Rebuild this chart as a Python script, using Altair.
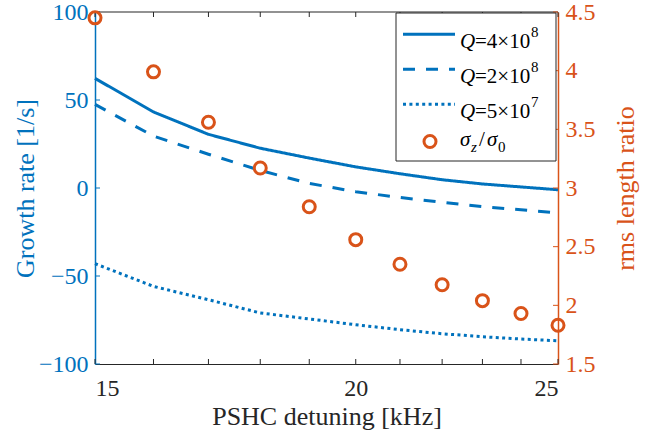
import altair as alt
import pandas as pd

# ---------------- data ----------------
detuning = [15, 16, 17, 18, 19, 20, 21, 22, 23, 24, 25]
growth_q4e8 = [62.3, 43.2, 30.5, 22.6, 17.0, 12.0, 8.1, 4.7, 2.3, 0.6, -1.0]
growth_q2e8 = [47.5, 29.5, 19.2, 10.0, 2.6, -2.1, -5.4, -8.1, -10.6, -12.4, -14.2]
growth_q5e7 = [-43.0, -55.9, -63.5, -71.0, -74.4, -77.7, -80.5, -82.8, -84.5, -85.8, -86.8]
sigma_ratio = [4.45, 3.99, 3.56, 3.17, 2.84, 2.56, 2.35, 2.175, 2.04, 1.93, 1.83]
series_names = ["Q=4e8", "Q=2e8", "Q=5e7"]
left_ticks = [-100, -50, 0, 50, 100]
right_ticks = [1.5, 2, 2.5, 3, 3.5, 4, 4.5]
legend_exponents = ["8", "8", "7"]
legend_mantissas = ["=4\u00d710", "=2\u00d710", "=5\u00d710"]

# ---------------- style ----------------
BLUE = "#0072BD"
ORANGE = "#D95319"
DARK = "#262626"
FONT = "Liberation Serif"
W, H = 463, 352
TICK = 5

lines_df = pd.DataFrame({
    "detuning": detuning * 3,
    "growth": growth_q4e8 + growth_q2e8 + growth_q5e7,
    "series": [series_names[0]] * 11 + [series_names[1]] * 11 + [series_names[2]] * 11,
})
ratio_df = pd.DataFrame({"detuning": detuning, "ratio": sigma_ratio})
xt_df = pd.DataFrame({"detuning": detuning})
lt_df = pd.DataFrame({"growth": left_ticks})
rt_df = pd.DataFrame({"ratio": right_ticks})
one = pd.DataFrame({"a": [0]})

xscale = alt.Scale(type="log", domain=[15, 25], nice=False)
lscale = alt.Scale(domain=[-100, 100], nice=False)
rscale = alt.Scale(domain=[1.5, 4.5], nice=False)

xaxis = alt.Axis(values=detuning, labelExpr="datum.value % 5 == 0 ? datum.label : ''",
                 ticks=False, grid=False, domainColor=DARK, domainWidth=1.2,
                 labelFont=FONT, labelFontSize=24, labelColor=DARK, labelPadding=12,
                 title="PSHC detuning [kHz]", titleFont=FONT, titleFontSize=26,
                 titleFontWeight="normal", titleColor=DARK, titlePadding=3)
laxis = alt.Axis(orient="left", values=left_ticks, format="d", ticks=False, grid=False,
                 domainColor=BLUE, domainWidth=1.5, labelFont=FONT, labelFontSize=24,
                 labelColor=BLUE, labelPadding=7, title="Growth rate [1/s]", titleFont=FONT,
                 titleFontSize=26, titleFontWeight="normal", titleColor=BLUE,
                 titleX=-70, titleY=H / 2, titleAngle=270, titleAlign="center",
                 titleBaseline="middle")
raxis = alt.Axis(orient="right", values=right_ticks, format="~g", ticks=False, grid=False,
                 domainColor=ORANGE, domainWidth=1.5, labelFont=FONT, labelFontSize=24,
                 labelColor=ORANGE, labelPadding=7, title="rms length ratio", titleFont=FONT,
                 titleFontSize=26, titleFontWeight="normal", titleColor=ORANGE,
                 titleX=67, titleY=H / 2, titleAngle=270, titleAlign="center",
                 titleBaseline="middle")

X = alt.X("detuning:Q", scale=xscale, axis=xaxis)

lines = alt.Chart(lines_df).mark_line(color=BLUE, strokeWidth=3, strokeCap="butt").encode(
    x=X,
    y=alt.Y("growth:Q", scale=lscale, axis=laxis),
    strokeDash=alt.StrokeDash("series:N", scale=alt.Scale(domain=series_names,
                              range=[[1, 0], [12, 11], [3, 3.4]]), legend=None),
)
lticks = alt.Chart(lt_df).mark_rule(color=BLUE, strokeWidth=1).encode(
    y=alt.Y("growth:Q", scale=lscale, axis=laxis), x=alt.value(0), x2=alt.value(TICK))
xticks_b = alt.Chart(xt_df).mark_rule(color=DARK, strokeWidth=1).encode(
    x=X, y=alt.value(H), y2=alt.value(H - TICK))
xticks_t = alt.Chart(xt_df).mark_rule(color=DARK, strokeWidth=1).encode(
    x=X, y=alt.value(0), y2=alt.value(TICK))
top_border = alt.Chart(one).mark_rule(color=DARK, strokeWidth=1.2).encode(
    x=alt.value(0), x2=alt.value(W), y=alt.value(0))

left_group = alt.layer(lines, lticks, xticks_b, xticks_t, top_border)

circles = alt.Chart(ratio_df).mark_point(shape="circle", filled=False, color=ORANGE,
                                          strokeWidth=3, size=144, opacity=1).encode(
    x=X, y=alt.Y("ratio:Q", scale=rscale, axis=raxis))
rticks = alt.Chart(rt_df).mark_rule(color=ORANGE, strokeWidth=1).encode(
    y=alt.Y("ratio:Q", scale=rscale, axis=raxis), x=alt.value(W - TICK), x2=alt.value(W))
right_group = alt.layer(circles, rticks)

# ---------------- manual legend ----------------
LX0, LX1, LY0, LY1 = 301, 461, 1, 149
leg = [alt.Chart(one).mark_rect(fill="white", stroke=DARK, strokeWidth=1).encode(
    x=alt.value(LX0), x2=alt.value(LX1), y=alt.value(LY0), y2=alt.value(LY1))]
dashes = [[1, 0], [12, 11], [3, 3.4]]
for i in range(3):
    ly = 22.3 + 35 * i
    tb = 36 + 35 * i
    leg.append(alt.Chart(one).mark_rule(color=BLUE, strokeWidth=3, strokeDash=dashes[i],
                                        strokeCap="butt").encode(
        x=alt.value(308), x2=alt.value(360), y=alt.value(ly)))
    leg.append(alt.Chart(one).mark_text(font=FONT, fontSize=21, fontStyle="italic", align="left",
                                        baseline="alphabetic", color="black").encode(
        x=alt.value(365), y=alt.value(tb), text=alt.value("Q")))
    leg.append(alt.Chart(one).mark_text(font=FONT, fontSize=21, align="left",
                                        baseline="alphabetic", color="black").encode(
        x=alt.value(380), y=alt.value(tb), text=alt.value(legend_mantissas[i])))
    leg.append(alt.Chart(one).mark_text(font=FONT, fontSize=15, align="left",
                                        baseline="alphabetic", color="black").encode(
        x=alt.value(436), y=alt.value(tb - 11), text=alt.value(legend_exponents[i])))
leg.append(alt.Chart(one).mark_point(shape="circle", filled=False, color=ORANGE, strokeWidth=3,
                                     size=144, opacity=1).encode(
    x=alt.value(335), y=alt.value(129.5)))
sig_parts = [("\u03c3", 365, 134, 21, "italic"), ("z", 376, 140, 15, "italic"),
             ("/", 384, 134, 21, "normal"), ("\u03c3", 392, 134, 21, "italic"),
             ("0", 403, 140, 15, "normal")]
for t, px, py, fs, st in sig_parts:
    leg.append(alt.Chart(one).mark_text(font=FONT, fontSize=fs, fontStyle=st, align="left",
                                        baseline="alphabetic", color="black").encode(
        x=alt.value(px), y=alt.value(py), text=alt.value(t)))
legend_group = alt.layer(*leg)

chart = alt.layer(left_group, right_group, legend_group).resolve_scale(
    y="independent"
).properties(
    width=W, height=H,
    autosize=alt.AutoSizeParams(type="none"),
    padding={"left": 95, "top": 12, "right": 94, "bottom": 75},
    background="white",
).configure_view(stroke=None)

chart.save("out.html", embed_options={"renderer": "svg", "actions": False})
